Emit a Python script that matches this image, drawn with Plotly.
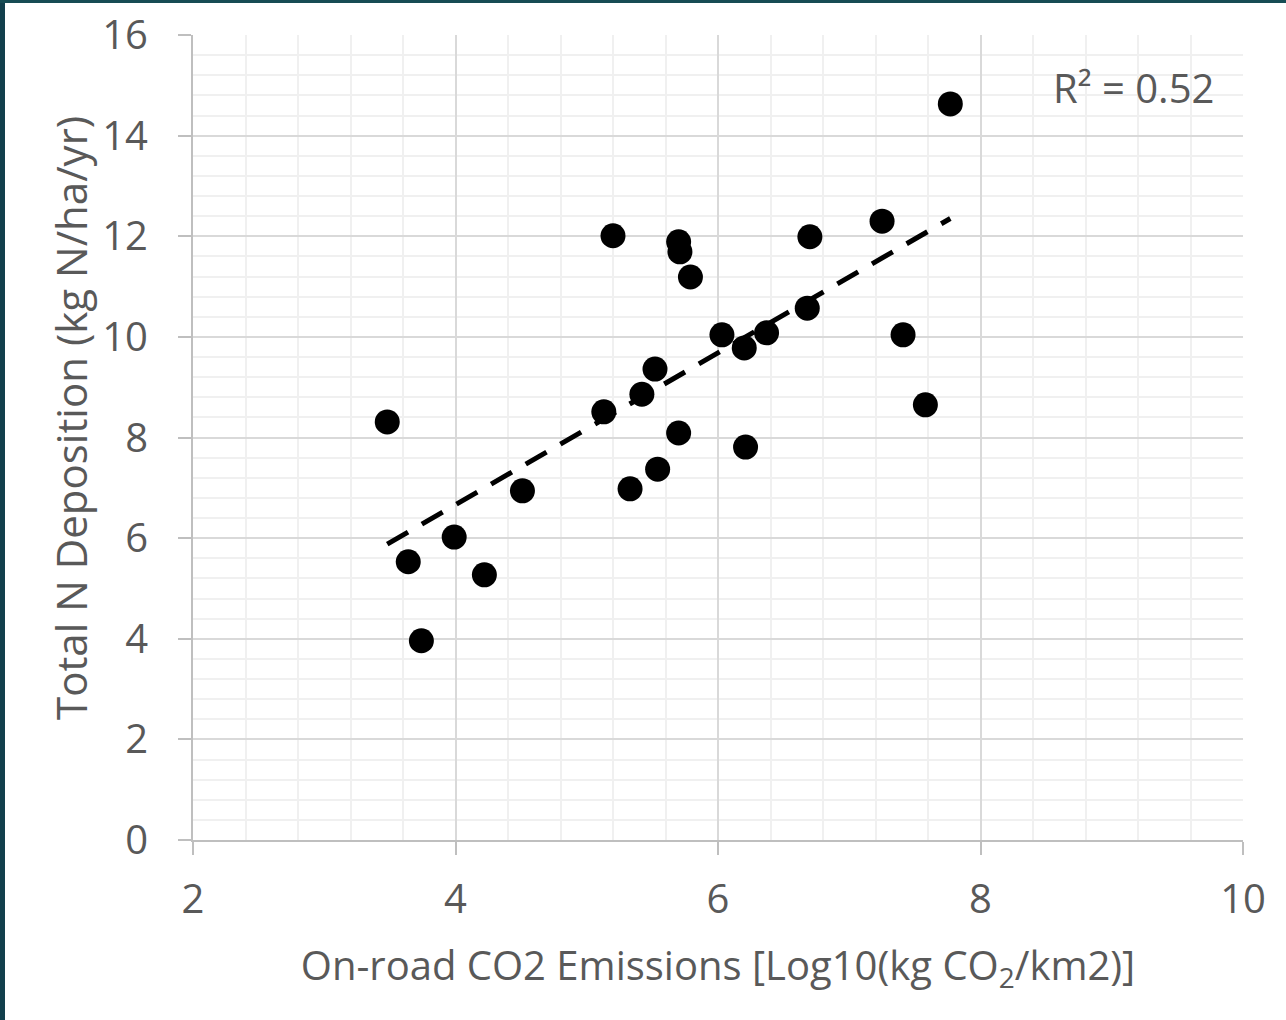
import numpy as np
import plotly.graph_objects as go

# Data
co2_log = [3.48, 3.64, 3.74, 3.99, 4.22, 4.51, 5.13, 5.20, 5.33, 5.42, 5.52, 5.54,
           5.70, 5.71, 5.70, 5.79, 6.03, 6.20, 6.21, 6.37, 6.68, 6.70, 7.25, 7.41,
           7.58, 7.77]
n_dep = [8.31, 5.53, 3.96, 6.02, 5.27, 6.94, 8.51, 12.01, 6.98, 8.86, 9.36, 7.37,
         11.89, 11.69, 8.09, 11.19, 10.04, 9.78, 7.81, 10.08, 10.57, 11.99, 12.30,
         10.04, 8.65, 14.63]
x_ticks = [2, 4, 6, 8, 10]
y_ticks = [0, 2, 4, 6, 8, 10, 12, 14, 16]
r2_label = "R² = 0.52"

# Linear trendline from the data
slope, intercept = np.polyfit(co2_log, n_dep, 1)
trend_x = [min(co2_log), max(co2_log)]
trend_y = [slope * v + intercept for v in trend_x]

TXT = "#595959"
FONT = "Open Sans"

fig = go.Figure()
fig.add_trace(go.Scatter(
    x=trend_x, y=trend_y, mode="lines",
    line=dict(color="black", width=5, dash="24px,16px"),
    showlegend=False, hoverinfo="skip"))
fig.add_trace(go.Scatter(
    x=co2_log, y=n_dep, mode="markers",
    marker=dict(color="black", size=25, line=dict(width=0)),
    showlegend=False))

axis_common = dict(
    showline=True, linecolor="#bfbfbf", linewidth=2,
    showgrid=True, gridcolor="#d9d9d9", gridwidth=2,
    ticks="outside", ticklen=13, tickwidth=2, tickcolor="#bfbfbf",
    tickfont=dict(family=FONT, size=40, color=TXT),
    zeroline=False, automargin=False,
    minor=dict(dtick=0.4, showgrid=True, gridcolor="#f0f0f0", gridwidth=2, ticks=""),
)

fig.update_xaxes(range=[2, 10], tickvals=x_ticks, ticklabelstandoff=10,
                 title=dict(text="On-road CO2 Emissions [Log10(kg CO<sub>2</sub>/km2)]",
                            font=dict(family=FONT, size=40, color=TXT), standoff=28),
                 **axis_common)
fig.update_yaxes(range=[0, 16], tickvals=y_ticks, ticklabelstandoff=22,
                 **axis_common)

# y-axis title (placed slightly above the axis centre, as in the reference)
fig.add_annotation(x=-123 / 1050, y=(840 - 418) / 805, xref="paper", yref="paper",
                   text="Total N Deposition (kg N/ha/yr)", textangle=-90,
                   showarrow=False, xanchor="center", yanchor="middle",
                   font=dict(family=FONT, size=42, color=TXT))

fig.add_annotation(x=0.974, y=0.935, xref="paper", yref="paper", text=r2_label,
                   showarrow=False, xanchor="right", yanchor="middle",
                   font=dict(family=FONT, size=40, color=TXT))

# dark frame edges of the original screenshot
fig.add_shape(type="rect", xref="paper", yref="paper",
              x0=-193 / 1050, x1=-188 / 1050, y0=-0.3, y1=1.1,
              fillcolor="#123f4c", line=dict(width=0), layer="above")
fig.add_shape(type="rect", xref="paper", yref="paper",
              x0=-193 / 1050, x1=1 + 43 / 1050, y0=1 + 32 / 805, y1=1.1,
              fillcolor="#174c54", line=dict(width=0), layer="above")

fig.update_layout(
    width=1286, height=1020,
    margin=dict(l=193, r=43, t=35, b=180, autoexpand=False),
    paper_bgcolor="white", plot_bgcolor="white",
    font=dict(family=FONT, color=TXT),
)

fig.write_html("out.html")
